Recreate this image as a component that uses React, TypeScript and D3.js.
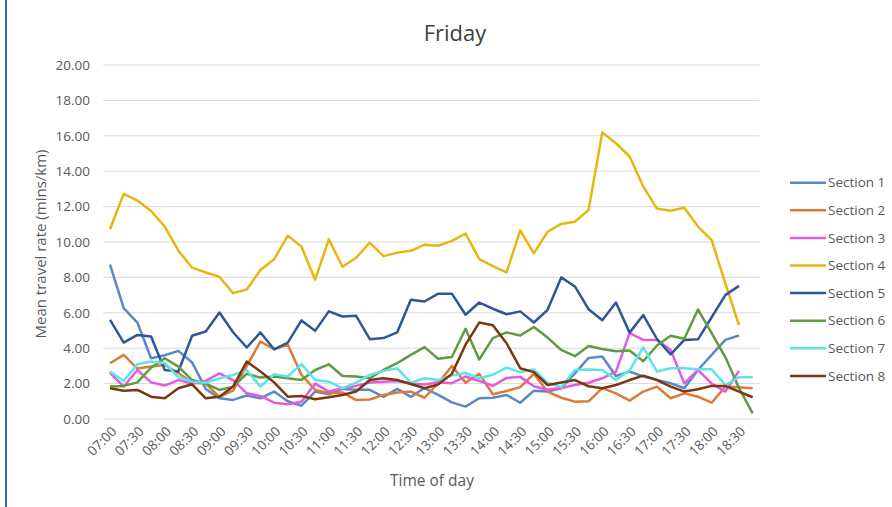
import React from "react";
import * as d3 from "d3";

const times = [
  "07:00","07:15","07:30","07:45","08:00","08:15","08:30","08:45","09:00","09:15","09:30","09:45",
  "10:00","10:15","10:30","10:45","11:00","11:15","11:30","11:45","12:00","12:15","12:30","12:45",
  "13:00","13:15","13:30","13:45","14:00","14:15","14:30","14:45","15:00","15:15","15:30","15:45",
  "16:00","16:15","16:30","16:45","17:00","17:15","17:30","17:45","18:00","18:15","18:30","18:45",
];
const yTicks = [0, 2, 4, 6, 8, 10, 12, 14, 16, 18, 20];

const section1 = [8.72,6.26,5.45,3.43,3.6,3.85,3.2,1.7,1.17,1.08,1.33,1.17,1.55,1.0,0.75,1.55,1.4,1.7,1.65,1.65,1.25,1.7,1.25,1.75,1.36,0.94,0.7,1.17,1.2,1.36,0.92,1.6,1.55,1.74,2.58,3.45,3.53,2.43,2.68,2.4,2.21,2.02,1.74,2.77,3.62,4.47,4.72];
const section2 = [3.15,3.62,2.85,2.96,3.05,2.6,2.05,2.0,1.25,1.6,3.0,4.38,3.94,4.2,2.5,1.64,1.45,1.5,1.07,1.1,1.36,1.5,1.55,1.2,2.02,3.0,2.05,2.55,1.4,1.58,1.8,2.55,1.55,1.2,0.98,1.0,1.74,1.45,1.04,1.55,1.83,1.17,1.45,1.26,0.92,1.83,1.79,1.74];
const section3 = [2.6,1.83,2.77,2.07,1.89,2.2,2.0,2.15,2.58,2.2,1.45,1.3,0.92,0.83,0.98,2.0,1.55,1.74,1.87,2.06,2.11,2.15,2.0,1.95,2.08,2.02,2.4,2.15,1.87,2.32,2.38,1.85,1.65,1.75,1.92,2.05,2.3,2.68,4.85,4.47,4.47,3.9,2.02,2.77,2.0,1.55,2.72];
const section4 = [10.72,12.72,12.34,11.75,10.87,9.51,8.55,8.28,8.04,7.11,7.32,8.42,9.02,10.36,9.74,7.87,10.15,8.6,9.11,9.96,9.2,9.4,9.5,9.85,9.79,10.06,10.47,9.04,8.64,8.28,10.66,9.36,10.58,11.02,11.15,11.81,16.19,15.58,14.83,13.13,11.89,11.77,11.94,10.87,10.11,7.66,5.3];
const section5 = [5.6,4.32,4.75,4.66,2.77,2.68,4.7,4.94,6.02,4.9,4.04,4.89,3.94,4.32,5.57,4.98,6.08,5.79,5.83,4.51,4.57,4.89,6.74,6.64,7.08,7.08,5.89,6.58,6.23,5.92,6.08,5.45,6.17,8.0,7.49,6.2,5.58,6.58,4.88,5.87,4.52,3.65,4.47,4.5,5.75,7.0,7.52];
const section6 = [1.83,1.87,2.07,2.9,3.43,2.96,2.2,2.0,1.64,1.83,2.55,2.34,2.4,2.3,2.2,2.77,3.09,2.43,2.4,2.3,2.77,3.15,3.62,4.06,3.4,3.5,5.1,3.36,4.57,4.89,4.72,5.2,4.6,3.9,3.55,4.12,3.96,3.83,3.87,3.26,4.15,4.7,4.53,6.19,4.85,3.5,1.75,0.32];
const section7 = [2.68,2.15,3.09,3.25,3.15,2.36,2.11,2.05,2.3,2.49,2.75,1.83,2.53,2.4,3.1,2.2,2.11,1.74,2.05,2.49,2.72,2.87,2.05,2.3,2.2,2.45,2.6,2.3,2.5,2.9,2.65,2.8,2.05,1.8,2.77,2.8,2.77,2.21,2.75,4.05,2.68,2.87,2.87,2.81,2.81,1.92,2.36,2.36];
const section8 = [1.74,1.6,1.64,1.26,1.17,1.74,1.96,1.17,1.26,1.83,3.25,2.68,2.07,1.26,1.3,1.12,1.23,1.36,1.55,2.2,2.3,2.2,1.98,1.74,1.95,2.55,4.2,5.45,5.3,4.28,2.87,2.65,1.92,2.06,2.2,1.85,1.74,1.92,2.2,2.45,2.2,1.83,1.55,1.68,1.87,1.87,1.55,1.23];

const seriesNames = ["Section 1","Section 2","Section 3","Section 4","Section 5","Section 6","Section 7","Section 8"];
const seriesValues = [section1, section2, section3, section4, section5, section6, section7, section8];
const seriesColors = ["#5A8AC6","#DD7A35","#E35BDE","#E6B711","#30569A","#609B42","#5FE3EA","#7B3711"];

const W = 892, H = 507;
const FONT = "'Open Sans', 'Liberation Sans', sans-serif";

export default function App() {
  const x = d3.scaleBand<string>().domain(times).range([103.2, 759.5]);
  const cx = (t: string) => (x(t) as number) + x.bandwidth() / 2;
  const y = d3.scaleLinear().domain([0, 20]).range([419, 65]);
  const fmt = d3.format(".2f");
  const line = d3.line<number>().x((_, i) => cx(times[i])).y((d) => y(d));

  return (
    <svg width={W} height={H} style={{ position: "absolute", left: 0, top: 0, background: "#fff" }} fontFamily={FONT}>
      <rect x={0} y={0} width={W} height={H} fill="#fff" />
      <line x1={6} x2={6} y1={0} y2={H} stroke="#3E68A8" strokeWidth={2} />
      <text x={455} y={41} textAnchor="middle" fontSize={22} fill="#404040">Friday</text>
      {yTicks.map((t) => (
        <g key={t}>
          <line x1={103.2} x2={759.5} y1={y(t)} y2={y(t)} stroke="#D9D9D9" strokeWidth={1} />
          <text x={90} y={y(t)} dy="0.35em" textAnchor="end" fontSize={13.5} fill="#595959">{fmt(t)}</text>
        </g>
      ))}
      <text transform={`translate(46,${244}) rotate(-90)`} textAnchor="middle" fontSize={15} fill="#595959">Mean travel rate (mins/km)</text>
      {times.filter((_, i) => i % 2 === 0).map((t) => (
        <text key={t} transform={`translate(${cx(t) + 4},${429}) rotate(-45)`} textAnchor="end" dy="0.35em" fontSize={13.5} fill="#595959">{t}</text>
      ))}
      <text x={432} y={486} textAnchor="middle" fontSize={15.5} fill="#595959">Time of day</text>
      {seriesValues.map((vals, k) => (
        <path key={k} d={line(vals) || ""} fill="none" stroke={seriesColors[k]} strokeWidth={2.5} strokeLinejoin="round" />
      ))}
      {seriesNames.map((n, k) => (
        <g key={n} transform={`translate(0,${182.7 + k * 27.6})`}>
          <line x1={790} x2={826} y1={0} y2={0} stroke={seriesColors[k]} strokeWidth={2.5} />
          <text x={828} y={0} dy="0.35em" fontSize={13.5} fill="#595959">{n}</text>
        </g>
      ))}
    </svg>
  );
}
